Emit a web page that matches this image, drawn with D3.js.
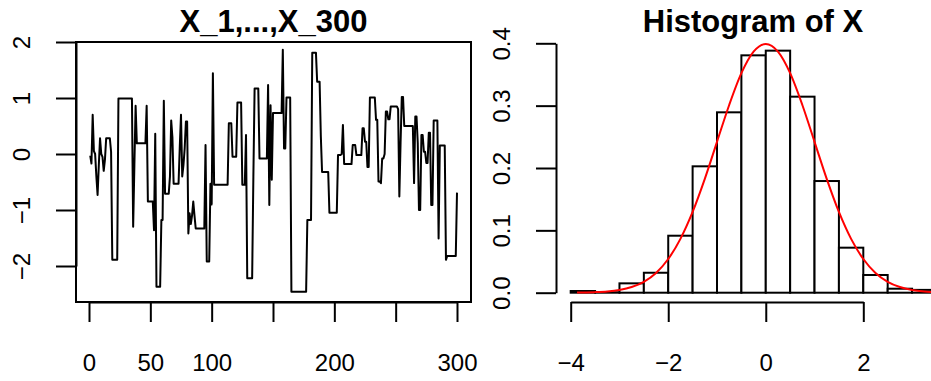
<!DOCTYPE html>
<html>
<head>
<meta charset="utf-8">
<script src="https://cdn.jsdelivr.net/npm/d3@7"></script>
<style>
  body { margin: 0; background: #fff; }
  svg { display: block; font-family: "Liberation Sans", Arial, Helvetica, sans-serif; }
</style>
</head>
<body>
<svg id="chart" width="931" height="381"></svg>
<script>
// left panel: the chain X_1..X_300
const chainValues = [
  -0.03,-0.17,0.70,0.05,0.00,-0.40,-0.73,-0.20,0.28,0.00,
  -0.05,-0.30,-0.10,0.28,0.28,0.28,0.28,0.04,-1.89,-1.89,
  -1.89,-1.89,-1.89,0.99,0.99,0.99,0.99,0.99,0.99,0.99,
  0.99,0.99,0.99,0.99,0.99,-1.30,-0.20,0.86,0.19,0.19,
  0.19,0.19,0.19,0.19,0.19,0.19,0.86,-0.85,-0.85,-0.85,
  -0.85,-0.85,-1.36,0.36,-2.37,-2.37,-2.37,-2.37,-1.18,-1.18,
  0.95,-0.71,-0.71,-0.71,-0.71,-0.40,0.60,0.30,-0.53,-0.53,
  -0.53,-0.53,-0.53,0.13,0.70,-0.40,-0.20,0.10,0.58,0.58,
  -1.42,-1.06,-1.25,-1.10,-0.85,-1.10,-1.33,-1.33,-1.33,-1.33,
  -1.33,-1.33,-1.33,-1.33,0.16,-1.92,-1.92,-1.92,-0.53,-0.90,
  1.44,-0.55,-0.55,-0.55,-0.55,-0.55,-0.55,-0.55,-0.55,-0.55,
  -0.55,-0.55,-0.55,0.55,0.55,0.55,-0.05,-0.05,-0.05,-0.05,
  0.92,0.92,0.92,0.92,-0.55,-0.55,-0.55,0.34,-2.22,-2.22,
  -2.22,-2.22,-2.22,-0.40,1.17,1.17,1.17,1.17,-0.08,-0.08,
  -0.08,-0.08,-0.08,-0.08,-0.08,1.23,-0.91,0.87,-0.46,0.73,
  0.73,0.73,0.73,0.73,0.73,0.73,0.73,1.86,0.10,0.10,
  1.01,1.01,1.01,1.01,-2.46,-2.46,-2.46,-2.46,-2.46,-2.46,
  -2.46,-2.46,-2.46,-2.46,-2.46,-2.46,-2.46,-1.18,-1.18,-1.18,
  -1.18,1.81,1.81,1.81,1.81,1.29,1.29,1.29,0.31,-0.32,
  -0.32,-0.32,-0.32,-0.32,-0.32,-1.05,-1.05,-1.05,-1.05,-1.05,
  -1.05,-1.05,-0.02,-0.02,-0.02,0.00,0.52,-0.18,-0.18,-0.18,
  -0.18,-0.18,-0.18,-0.18,0.16,0.16,0.16,-0.02,-0.02,-0.02,
  -0.02,-0.02,0.46,0.46,0.22,0.22,-0.23,-0.23,1.01,1.01,
  1.01,1.01,1.01,0.61,0.61,-0.49,-0.49,-0.52,-0.08,-0.08,
  0.00,0.76,0.76,0.62,0.62,0.85,0.85,0.85,0.85,0.85,
  0.85,0.80,-0.76,0.20,1.02,1.02,0.50,0.50,0.50,0.50,
  0.50,0.50,0.50,0.50,-0.52,0.67,0.67,0.20,-1.00,-1.00,
  0.34,0.34,0.04,0.04,-0.16,-0.16,0.38,0.38,-0.91,-0.91,
  0.60,0.60,0.60,0.60,-1.51,0.15,0.15,0.15,0.15,0.15,
  -1.89,-1.82,-1.82,-1.82,-1.82,-1.82,-1.82,-1.82,-1.82,-0.69
];
const chainXTicks = [0, 50, 100, 150, 200, 250, 300];
const chainXLabels = ['0', '50', '100', '', '200', '', '300'];
const chainYTicks = [-2, -1, 0, 1, 2];

// right panel: histogram (density) with 0.5 wide bins
const binStarts = [-4, -3.5, -3, -2.5, -2, -1.5, -1, -0.5, 0, 0.5, 1, 1.5, 2, 2.5, 3];
const binDensity = [0.0027, 0.0007, 0.015, 0.032, 0.0914, 0.2027, 0.2893, 0.3807,
                    0.3882, 0.3144, 0.1791, 0.0722, 0.0284, 0.0064, 0.0045];
const binWidth = 0.5;
const histXTicks = [-4, -2, 0, 2];
const histYTicks = [0, 0.1, 0.2, 0.3, 0.4];
// red density curve
const curveX = [-3.87, -3.75, -3.5, -3.25, -3, -2.75, -2.5, -2.25, -2, -1.75, -1.5, -1.25, -1, -0.75,
                -0.5, -0.25, 0, 0.25, 0.5, 0.75, 1, 1.25, 1.5, 1.75, 2, 2.25, 2.5, 2.75, 3, 3.25, 3.5, 3.75, 4];
const curveY = [0.0002, 0.0004, 0.0009, 0.0020, 0.0044, 0.0091, 0.0175, 0.0317, 0.0540, 0.0863, 0.1295, 0.1826,
                0.2420, 0.3011, 0.3521, 0.3867, 0.3989, 0.3867, 0.3521, 0.3011, 0.2420, 0.1826, 0.1295,
                0.0863, 0.0540, 0.0317, 0.0175, 0.0091, 0.0044, 0.0020, 0.0009, 0.0004, 0.0001];

const svg = d3.select('#chart');
const fmt = d3.format('d');

// * left panel
const box = { left: 76, right: 471, top: 42, bottom: 302 };
const xL = d3.scaleLinear().domain([0, 300]).range([89, 457]);
const yL = d3.scaleLinear().domain([-2, 2]).range([266, 42]);

svg.append('text')
  .attr('x', (box.left + box.right) / 2).attr('y', 32)
  .attr('text-anchor', 'middle')
  .style('font-size', '31px').style('font-weight', 'bold')
  .text('X_1,...,X_300');

const line = d3.line()
  .x((d, i) => xL(i + 1))
  .y(d => yL(d));

svg.append('path')
  .datum(chainValues)
  .attr('d', line)
  .attr('fill', 'none')
  .attr('stroke', '#000')
  .attr('stroke-width', 2)
  .attr('stroke-linejoin', 'round');

svg.append('rect')
  .attr('x', box.left).attr('y', box.top)
  .attr('width', box.right - box.left).attr('height', box.bottom - box.top)
  .attr('fill', 'none').attr('stroke', '#000').attr('stroke-width', 2);

const xAxisL = d3.axisBottom(xL)
  .tickValues(chainXTicks)
  .tickFormat((d, i) => chainXLabels[i])
  .tickSize(20).tickSizeOuter(0).tickPadding(32);

const yAxisL = d3.axisLeft(yL)
  .tickValues(chainYTicks)
  .tickFormat(fmt)
  .tickSize(20).tickSizeOuter(0);

svg.append('g').attr('class', 'axis')
  .attr('transform', `translate(0,${box.bottom})`)
  .call(xAxisL);

svg.append('g').attr('class', 'axis rot')
  .attr('transform', `translate(${box.left},0)`)
  .call(yAxisL);

// * right panel
const xR = d3.scaleLinear().domain([-4, 2]).range([570.7, 863.3]);
const yR = d3.scaleLinear().domain([0, 0.4]).range([292.7, 43.3]);

svg.append('text')
  .attr('x', 753).attr('y', 32)
  .attr('text-anchor', 'middle')
  .style('font-size', '31px').style('font-weight', 'bold')
  .text('Histogram of X');

svg.append('g')
  .selectAll('rect')
  .data(binStarts)
  .enter()
  .append('rect')
  .attr('x', d => xR(d))
  .attr('width', d => xR(d + binWidth) - xR(d))
  .attr('y', (d, i) => yR(binDensity[i]))
  .attr('height', (d, i) => yR(0) - yR(binDensity[i]))
  .attr('fill', '#fff')
  .attr('stroke', '#000')
  .attr('stroke-width', 2);

const densityLine = d3.line()
  .x((d, i) => xR(curveX[i]))
  .y(d => yR(d))
  .curve(d3.curveMonotoneX);

svg.append('path')
  .datum(curveY)
  .attr('d', densityLine)
  .attr('fill', 'none')
  .attr('stroke', '#ff0000')
  .attr('stroke-width', 2);

const xAxisR = d3.axisBottom(xR)
  .tickValues(histXTicks)
  .tickFormat(fmt)
  .tickSize(20).tickSizeOuter(0).tickPadding(32);

const yAxisR = d3.axisLeft(yR)
  .tickValues(histYTicks)
  .tickFormat(d3.format('.1f'))
  .tickSize(20).tickSizeOuter(0);

svg.append('g').attr('class', 'axis')
  .attr('transform', 'translate(0,302)')
  .call(xAxisR);

svg.append('g').attr('class', 'axis rot')
  .attr('transform', 'translate(556,0)')
  .call(yAxisR);

// axis styling like base R
svg.selectAll('.axis path, .axis line')
  .attr('stroke', '#000').attr('stroke-width', 2);
svg.selectAll('.axis text')
  .attr('fill', '#000')
  .style('font-size', '24px')
  .style('font-family', '"Liberation Sans", Arial, Helvetica, sans-serif');
svg.selectAll('.axis.rot text')
  .attr('transform', 'rotate(-90)')
  .attr('text-anchor', 'middle')
  .attr('x', 0).attr('y', -46).attr('dy', 0);
</script>
</body>
</html>
